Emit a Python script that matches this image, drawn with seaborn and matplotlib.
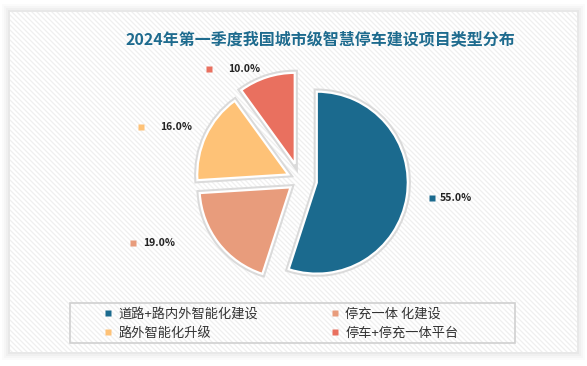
import matplotlib
matplotlib.use("Agg")
import matplotlib.pyplot as plt
import matplotlib.patheffects as pe
from matplotlib.patches import Rectangle
from matplotlib.lines import Line2D
from matplotlib.collections import LineCollection
import numpy as np
import seaborn as sns

# ---- data ----
title = "2024年第一季度我国城市级智慧停车建设项目类型分布"
categories = ["道路+路内外智能化建设", "停充一体 化建设", "路外智能化升级", "停车+停充一体平台"]
values = [55.0, 19.0, 16.0, 10.0]
colors = ["#1b6a8e", "#e89c7c", "#fec277", "#e9705f"]

sns.set_theme(style="white")
plt.rcParams['font.family'] = ['Noto Sans CJK SC', 'DejaVu Sans']

W, H = 587, 366
fig = plt.figure(figsize=(W / 100, H / 100), dpi=100)
fig.patch.set_facecolor("white")
ax = fig.add_axes([0, 0, 1, 1])

def py(y):
    return H - y

# panel with soft shadow and diagonal texture
for i, a in enumerate([0.015, 0.02, 0.025, 0.03]):
    d = 8 - 2 * i
    ax.add_patch(Rectangle((10 - d, py(352) - d), 567 + 2 * d, 340 + 2 * d,
                           facecolor="black", alpha=a, lw=0, zorder=0))
panel = Rectangle((10, py(352)), 567, 340, facecolor="white", lw=0, zorder=0.5)
ax.add_patch(panel)
starts = np.arange(-400, 600, 5.0)
segs = [[(s, H), (s + H, 0)] for s in starts]
lc = LineCollection(segs, colors="#efefef", linewidths=0.9, zorder=0.6)
ax.add_collection(lc)
lc.set_clip_path(panel)

explode = [17, 12, 13, 17]  # offsets in pixels (data units)
wedges, _ = ax.pie(values, colors=colors, startangle=90, counterclock=False,
                   explode=explode, radius=91, center=(300, py(180)),
                   wedgeprops=dict(edgecolor="white", linewidth=1.6))
for w in wedges:
    w.set_zorder(2)
    w.set_path_effects([pe.Stroke(linewidth=4.5, foreground="#dadada"), pe.Normal()])

ax.set_xlim(0, W)
ax.set_ylim(0, H)
ax.set_aspect("equal")
ax.axis("off")

# percentage labels (layout positions in pixels)
label_pos = [(432, 198), (133, 243), (141, 127), (209, 69)]
text_gap = [8, 10, 19, 19]
for (x, y), g, v, c in zip(label_pos, text_gap, values, colors):
    ax.plot([x], [py(y)], marker="s", ms=3.8, color=c, mec="none", zorder=3)
    ax.text(x + g, py(y), f"{v:.1f}%", fontsize=7.5, color="#222222", fontweight="bold",
            va="center", ha="left", zorder=3)

ax.text(320, py(39), title, fontsize=11.5, fontweight="bold", color="#1e6b8e",
        ha="center", va="center", zorder=3)

# legend box
ax.add_patch(Rectangle((70, py(343)), 445, 40, facecolor="none",
                       edgecolor="#d0d0d0", lw=1.2, zorder=3))
handles = [Line2D([], [], marker="s", ls="none", ms=5, color=c, mec="none") for c in colors]
order = [0, 2, 1, 3]
leg = ax.legend([handles[i] for i in order], [categories[i] for i in order],
                ncol=2, frameon=False, fontsize=9.5, labelcolor="#333333",
                loc="upper left", bbox_to_anchor=(96 / W, 1 - 301 / H),
                handlelength=0.8, handletextpad=0.4, columnspacing=5.4,
                labelspacing=0.45, borderpad=0)

fig.savefig("out.png", dpi=100)
